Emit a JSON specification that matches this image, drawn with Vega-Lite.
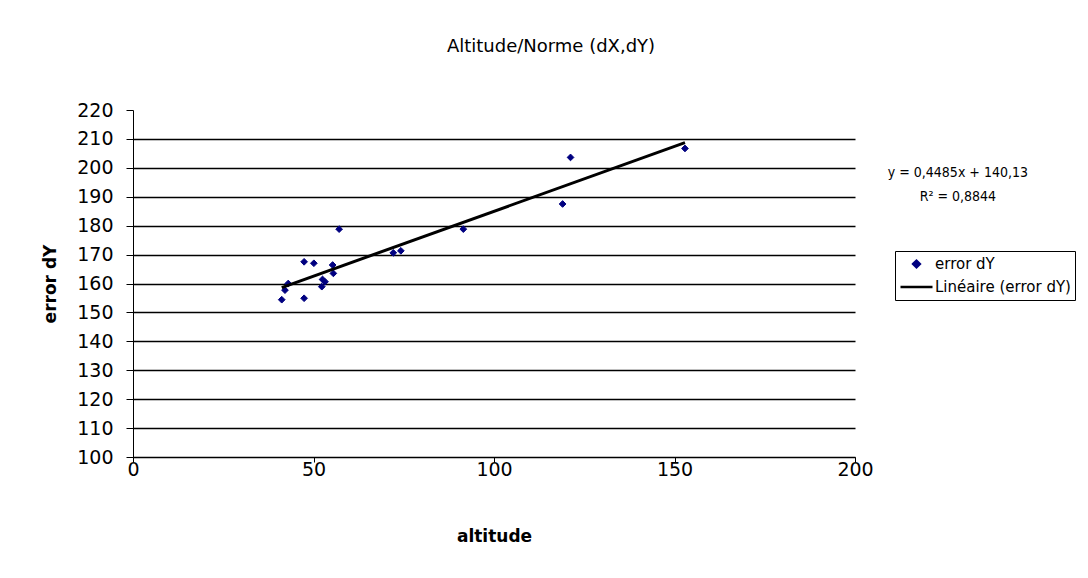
{
  "$schema": "https://vega.github.io/schema/vega-lite/v6.json",
  "autosize": "none",
  "width": 722,
  "height": 347,
  "padding": {"left": 133, "top": 110, "right": 233, "bottom": 121},
  "background": "white",
  "title": {
    "text": "Altitude/Norme (dX,dY)",
    "font": "DejaVu Sans",
    "fontSize": 18,
    "fontWeight": "normal",
    "color": "black",
    "anchor": "middle",
    "dx": 57,
    "offset": 45
  },
  "config": {
    "view": {"stroke": null},
    "axis": {
      "labelFont": "DejaVu Sans",
      "labelFontSize": 19,
      "labelColor": "black",
      "labelOverlap": false,
      "labelFlush": false,
      "domainColor": "black",
      "tickColor": "black",
      "titleFont": "DejaVu Sans",
      "titleFontWeight": "bold",
      "titleColor": "black",
      "titleFontSize": 17
    }
  },
  "encoding": {
    "x": {
      "field": "altitude", "type": "quantitative",
      "scale": {"domain": [0, 200], "nice": false, "zero": false},
      "axis": {
        "title": "altitude",
        "values": [0, 50, 100, 150, 200],
        "grid": false,
        "tickSize": 5,
        "labelPadding": -2,
        "titlePadding": 49
      }
    },
    "y": {
      "field": "error", "type": "quantitative",
      "scale": {"domain": [100, 220], "nice": false, "zero": false},
      "axis": {
        "title": "error dY",
        "values": [100, 110, 120, 130, 140, 150, 160, 170, 180, 190, 200, 210, 220],
        "grid": true,
        "gridColor": "black",
        "gridWidth": 1.5,
        "gridOpacity": {"condition": {"test": "datum.value >= 220", "value": 0}, "value": 1},
        "tickSize": 7,
        "labelPadding": 13,
        "titlePadding": 17
      }
    }
  },
  "layer": [
    {
      "data": {"values": [
        {"altitude": 41.2, "error": 154.4, "series": "error dY"},
        {"altitude": 42.1, "error": 157.7, "series": "error dY"},
        {"altitude": 43.0, "error": 160.0, "series": "error dY"},
        {"altitude": 47.4, "error": 167.5, "series": "error dY"},
        {"altitude": 47.4, "error": 154.9, "series": "error dY"},
        {"altitude": 50.1, "error": 167.0, "series": "error dY"},
        {"altitude": 52.3, "error": 158.9, "series": "error dY"},
        {"altitude": 52.5, "error": 161.4, "series": "error dY"},
        {"altitude": 53.2, "error": 160.6, "series": "error dY"},
        {"altitude": 55.3, "error": 166.4, "series": "error dY"},
        {"altitude": 55.5, "error": 163.5, "series": "error dY"},
        {"altitude": 57.1, "error": 178.8, "series": "error dY"},
        {"altitude": 72.1, "error": 170.6, "series": "error dY"},
        {"altitude": 74.2, "error": 171.3, "series": "error dY"},
        {"altitude": 91.5, "error": 178.8, "series": "error dY"},
        {"altitude": 119.0, "error": 187.5, "series": "error dY"},
        {"altitude": 121.2, "error": 203.6, "series": "error dY"},
        {"altitude": 152.9, "error": 206.7, "series": "error dY"}
      ]},
      "mark": {"type": "point", "filled": true, "opacity": 1, "strokeWidth": 1},
      "encoding": {
        "fill": {
          "field": "series", "type": "nominal",
          "scale": {"domain": ["error dY", "Linéaire (error dY)"], "range": ["#000080", "transparent"]},
          "legend": {
            "orient": "none",
            "legendX": 762,
            "legendY": 141,
            "title": null,
            "strokeColor": "black",
            "fillColor": "white",
            "padding": 4,
            "labelFont": "DejaVu Sans",
            "labelFontSize": 15,
            "labelColor": "black",
            "labelOffset": 1,
            "rowPadding": 5,
            "clipHeight": 18,
            "symbolStrokeWidth": 2.5,
            "symbolOpacity": 1
          }
        },
        "stroke": {
          "field": "series", "type": "nominal",
          "scale": {"domain": ["error dY", "Linéaire (error dY)"], "range": ["#000080", "#000000"]}
        },
        "shape": {
          "field": "series", "type": "nominal",
          "scale": {"domain": ["error dY", "Linéaire (error dY)"], "range": ["diamond", "stroke"]}
        },
        "size": {
          "field": "series", "type": "nominal",
          "scale": {"type": "ordinal", "domain": ["error dY", "Linéaire (error dY)"], "range": [45, 1024]}
        }
      }
    },
    {
      "data": {"values": [
        {"altitude": 41.2, "error": 158.6, "series": "Linéaire (error dY)"},
        {"altitude": 152.9, "error": 208.7, "series": "Linéaire (error dY)"}
      ]},
      "mark": {"type": "line", "strokeWidth": 3},
      "encoding": {
        "stroke": {"field": "series", "type": "nominal"}
      }
    },
    {
      "data": {"values": [
        {"altitude": 228.5, "error": 198.2, "label": "y = 0,4485x + 140,13"},
        {"altitude": 228.5, "error": 189.9, "label": "R² = 0,8844"}
      ]},
      "mark": {"type": "text", "font": "DejaVu Sans Condensed", "fontSize": 14, "color": "black", "align": "center", "baseline": "middle", "clip": false},
      "encoding": {
        "text": {"field": "label", "type": "nominal"}
      }
    }
  ]
}
